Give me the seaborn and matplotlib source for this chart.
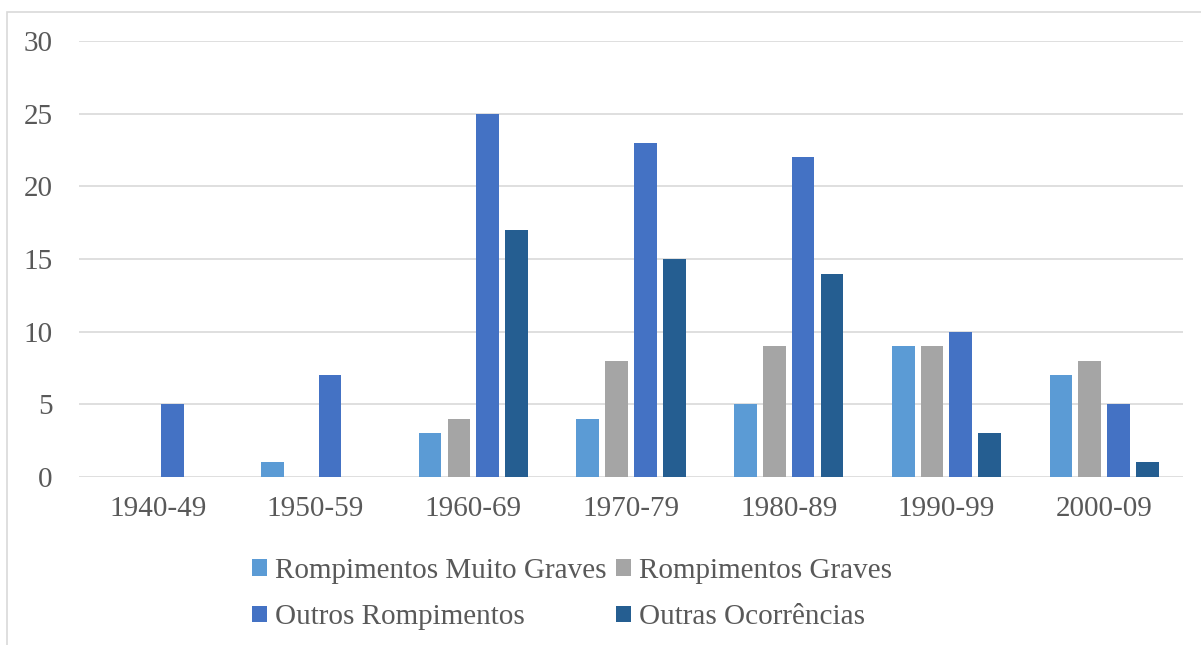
import numpy as np
import pandas as pd
import seaborn as sns
import matplotlib.pyplot as plt
from matplotlib.patches import Rectangle

decadas = ["1940-49", "1950-59", "1960-69", "1970-79", "1980-89", "1990-99", "2000-09"]
series = ["Rompimentos Muito Graves", "Rompimentos Graves",
          "Outros Rompimentos", "Outras Ocorrências"]
muito_graves = [0, 1, 3, 4, 5, 9, 7]
graves = [0, 0, 4, 8, 9, 9, 8]
outros_romp = [5, 7, 25, 23, 22, 10, 5]
outras_ocorr = [0, 0, 17, 15, 14, 3, 1]
cores = ["#5B9BD5", "#A5A5A5", "#4472C4", "#255E91"]

valores = [muito_graves, graves, outros_romp, outras_ocorr]
df = pd.DataFrame({
    "decada": np.tile(decadas, len(series)),
    "serie": np.repeat(series, len(decadas)),
    "valor": np.concatenate(valores),
})

sns.set_style("white")
plt.rcParams["font.family"] = ["Liberation Serif", "DejaVu Serif"]
texto = "#595959"
grade = "#D9D9D9"

fig = plt.figure(figsize=(12.01, 6.45), dpi=100)
ax = fig.add_axes([79 / 1201, 1 - 477 / 645, (1183 - 79) / 1201, (477 - 41) / 645])

sns.barplot(data=df, x="decada", y="valor", hue="serie", hue_order=series,
            palette=cores, saturation=1, width=0.73, gap=0.21, linewidth=0,
            ax=ax, errorbar=None, legend=True)

ax.set_ylim(0, 30)
ax.set_yticks(range(0, 31, 5))
ax.set_xlim(-0.5, len(decadas) - 0.5)
ax.yaxis.grid(True, color=grade, linewidth=1.2)
ax.set_axisbelow(True)
for s in ax.spines.values():
    s.set_visible(False)
ax.set_xlabel("")
ax.set_ylabel("")
ax.tick_params(axis="both", length=0, labelsize=21, labelcolor=texto)
ax.tick_params(axis="y", pad=19)
ax.tick_params(axis="x", pad=14)

# legenda em duas linhas
h, l = ax.get_legend_handles_labels()
ordem = [0, 2, 1, 3]
ax.legend([h[i] for i in ordem], [l[i] for i in ordem], ncol=2,
          loc="upper left", bbox_to_anchor=(252 / 1201, 1 - 558 / 645),
          bbox_transform=fig.transFigure, frameon=False, fontsize=21,
          labelcolor=texto, handlelength=0.5, handleheight=0.5,
          handletextpad=0.28, columnspacing=0.34, labelspacing=0.7,
          borderpad=0, borderaxespad=0)

# moldura
fig.patches.append(Rectangle((7 / 1201, -0.05), 1.2, 1 - 12 / 645 + 0.05,
                             transform=fig.transFigure, fill=False,
                             edgecolor=grade, linewidth=1.2))

fig.savefig("out.png", dpi=100)
